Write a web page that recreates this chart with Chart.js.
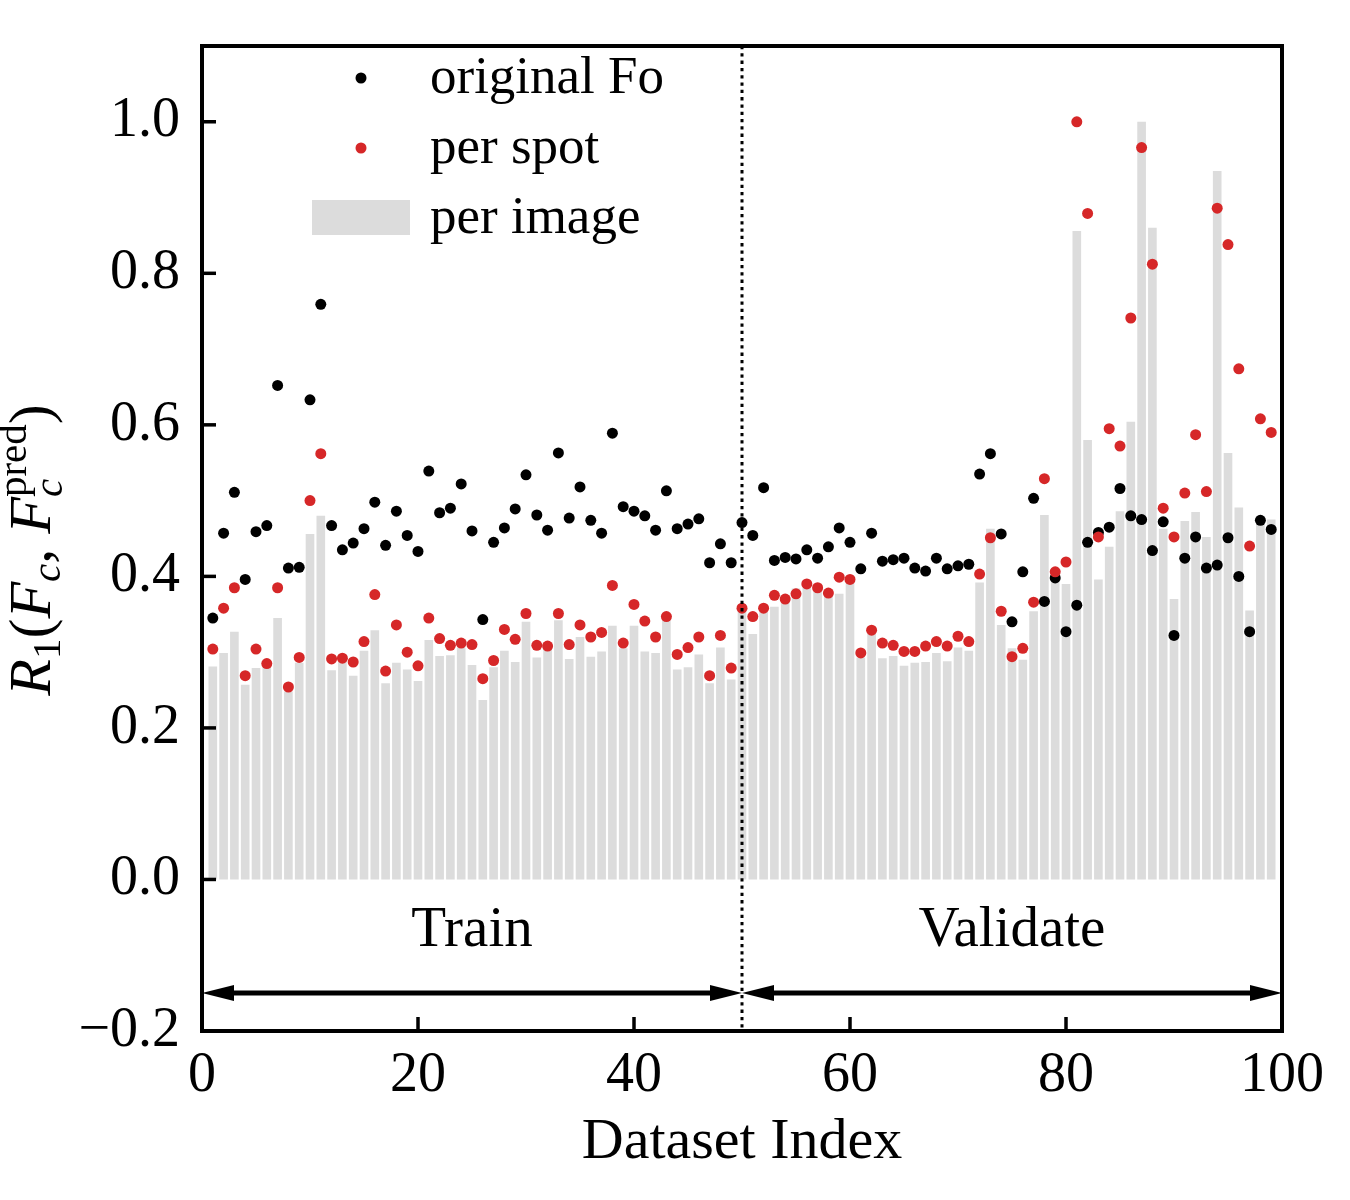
<!DOCTYPE html>
<html>
<head>
<meta charset="utf-8">
<script src="https://cdn.jsdelivr.net/npm/chart.js@4.4.0/dist/chart.umd.min.js"></script>
<style>
  body { margin: 0; background: #fff; }
  canvas { display: block; }
</style>
</head>
<body>
<canvas id="grafica" width="1350" height="1200"></canvas>
<script>
// Indices de los datasets (eje x)
const datasetIndex = [
  1, 2, 3, 4, 5, 6, 7, 8, 9, 10, 11, 12, 13, 14, 15, 16, 17, 18, 19, 20,
  21, 22, 23, 24, 25, 26, 27, 28, 29, 30, 31, 32, 33, 34, 35, 36, 37, 38, 39, 40,
  41, 42, 43, 44, 45, 46, 47, 48, 49, 50, 51, 52, 53, 54, 55, 56, 57, 58, 59, 60,
  61, 62, 63, 64, 65, 66, 67, 68, 69, 70, 71, 72, 73, 74, 75, 76, 77, 78, 79, 80,
  81, 82, 83, 84, 85, 86, 87, 88, 89, 90, 91, 92, 93, 94, 95, 96, 97, 98, 99
];

// original Fo (puntos negros)
const originalFo = [
  0.345, 0.457, 0.511, 0.396, 0.459, 0.467, 0.652, 0.411, 0.412, 0.633,
  0.759, 0.467, 0.435, 0.444, 0.463, 0.498, 0.441, 0.486, 0.454, 0.433,
  0.539, 0.484, 0.490, 0.522, 0.460, 0.343, 0.445, 0.464, 0.489, 0.534,
  0.481, 0.461, 0.563, 0.477, 0.518, 0.474, 0.457, 0.589, 0.492, 0.486,
  0.480, 0.461, 0.513, 0.463, 0.469, 0.476, 0.418, 0.443, 0.418, 0.471,
  0.454, 0.517, 0.421, 0.425, 0.423, 0.435, 0.424, 0.439, 0.464, 0.445,
  0.410, 0.457, 0.420, 0.422, 0.424, 0.411, 0.407, 0.424, 0.410, 0.414,
  0.416, 0.535, 0.562, 0.456, 0.340, 0.406, 0.503, 0.367, 0.398, 0.327,
  0.362, 0.445, 0.458, 0.465, 0.516, 0.480, 0.475, 0.434, 0.472, 0.322,
  0.424, 0.452, 0.411, 0.415, 0.451, 0.400, 0.327, 0.474, 0.462
];

// per spot (puntos rojos)
const perSpot = [
  0.304, 0.358, 0.385, 0.269, 0.304, 0.285, 0.385, 0.254, 0.293, 0.500,
  0.562, 0.291, 0.292, 0.287, 0.314, 0.376, 0.275, 0.336, 0.300, 0.282,
  0.345, 0.318, 0.309, 0.312, 0.310, 0.265, 0.289, 0.330, 0.317, 0.351,
  0.309, 0.308, 0.351, 0.310, 0.336, 0.320, 0.326, 0.388, 0.312, 0.363,
  0.341, 0.320, 0.347, 0.297, 0.306, 0.320, 0.269, 0.322, 0.279, 0.358,
  0.347, 0.358, 0.375, 0.370, 0.377, 0.390, 0.385, 0.378, 0.399, 0.396,
  0.299, 0.329, 0.312, 0.309, 0.301, 0.301, 0.308, 0.314, 0.308, 0.321,
  0.314, 0.403, 0.451, 0.354, 0.294, 0.305, 0.366, 0.529, 0.406, 0.419,
  1.000, 0.879, 0.452, 0.595, 0.572, 0.741, 0.966, 0.812, 0.490, 0.452,
  0.510, 0.587, 0.512, 0.886, 0.838, 0.674, 0.440, 0.608, 0.590
];

// per image (barras grises)
const perImage = [
  0.281, 0.299, 0.327, 0.257, 0.279, 0.281, 0.345, 0.248, 0.286, 0.456,
  0.480, 0.276, 0.290, 0.269, 0.302, 0.329, 0.259, 0.286, 0.277, 0.262,
  0.316, 0.295, 0.296, 0.306, 0.283, 0.237, 0.280, 0.302, 0.287, 0.340,
  0.293, 0.305, 0.342, 0.291, 0.320, 0.294, 0.301, 0.335, 0.305, 0.335,
  0.301, 0.299, 0.342, 0.277, 0.280, 0.297, 0.259, 0.306, 0.264, 0.355,
  0.324, 0.353, 0.360, 0.368, 0.384, 0.385, 0.380, 0.375, 0.377, 0.392,
  0.293, 0.324, 0.292, 0.295, 0.282, 0.286, 0.287, 0.299, 0.288, 0.306,
  0.302, 0.392, 0.463, 0.336, 0.305, 0.290, 0.354, 0.481, 0.398, 0.390,
  0.856, 0.580, 0.396, 0.439, 0.486, 0.604, 1.000, 0.860, 0.463, 0.370,
  0.473, 0.485, 0.452, 0.935, 0.563, 0.491, 0.355, 0.469, 0.475
];

const yTicks = [-0.2, 0.0, 0.2, 0.4, 0.6, 0.8, 1.0];
const xTicks = [0, 20, 40, 60, 80, 100];
const splitAt = 50;
const regions = [
  { label: 'Train', from: 0, to: 50 },
  { label: 'Validate', from: 50, to: 100 }
];
const legendItems = [
  { label: 'original Fo', kind: 'dot', color: '#000000' },
  { label: 'per spot', kind: 'dot', color: '#d62728' },
  { label: 'per image', kind: 'rect', color: '#dcdcdc' }
];

const SERIF = "'Liberation Serif', 'Times New Roman', serif";
Chart.defaults.font.family = SERIF;
Chart.defaults.color = '#000';

const toXY = (ys) => datasetIndex.map((x, k) => ({ x: x, y: ys[k] }));

// Quitar el relleno extra que Chart.js reserva para las etiquetas
const sinRelleno = (axis) => {
  axis.paddingTop = 0;
  axis.paddingBottom = 0;
  axis.paddingLeft = 0;
  axis.paddingRight = 0;
};

// Marco, ticks hacia dentro, linea punteada, flechas, textos y leyenda
const decoraciones = {
  id: 'decoraciones',
  afterDatasetsDraw(chart) {
    const { ctx, chartArea: a, scales } = chart;
    const xs = scales.x, ys = scales.y;
    ctx.save();

    // linea punteada en la separacion
    const xs50 = xs.getPixelForValue(splitAt);
    ctx.strokeStyle = '#000';
    ctx.lineWidth = 3;
    ctx.setLineDash([3.3, 4]);
    ctx.beginPath();
    ctx.moveTo(xs50, a.top);
    ctx.lineTo(xs50, a.bottom);
    ctx.stroke();
    ctx.setLineDash([]);

    // flechas dobles
    const yArrow = ys.getPixelForValue(-0.15);
    const headL = 32, headW = 8;
    ctx.fillStyle = '#000';
    ctx.lineWidth = 5;
    regions.forEach((r) => {
      const x0 = xs.getPixelForValue(r.from);
      const x1 = xs.getPixelForValue(r.to);
      ctx.beginPath();
      ctx.moveTo(x0 + headL - 2, yArrow);
      ctx.lineTo(x1 - headL + 2, yArrow);
      ctx.stroke();
      ctx.beginPath();
      ctx.moveTo(x0, yArrow);
      ctx.lineTo(x0 + headL, yArrow - headW);
      ctx.lineTo(x0 + headL, yArrow + headW);
      ctx.closePath();
      ctx.fill();
      ctx.beginPath();
      ctx.moveTo(x1, yArrow);
      ctx.lineTo(x1 - headL, yArrow - headW);
      ctx.lineTo(x1 - headL, yArrow + headW);
      ctx.closePath();
      ctx.fill();

      // texto de la region
      ctx.font = '57px ' + SERIF;
      ctx.textAlign = 'center';
      ctx.textBaseline = 'alphabetic';
      ctx.fillText(r.label, (x0 + x1) / 2, 946);
    });

    // ticks hacia dentro
    ctx.lineWidth = 3.5;
    yTicks.forEach((v) => {
      const y = ys.getPixelForValue(v);
      ctx.beginPath();
      ctx.moveTo(a.left, y);
      ctx.lineTo(a.left + 14, y);
      ctx.stroke();
    });
    xTicks.forEach((v) => {
      const x = xs.getPixelForValue(v);
      ctx.beginPath();
      ctx.moveTo(x, a.bottom);
      ctx.lineTo(x, a.bottom - 14);
      ctx.stroke();
    });

    // marco
    ctx.lineWidth = 4;
    ctx.strokeRect(a.left, a.top, a.right - a.left, a.bottom - a.top);

    // leyenda
    ctx.font = '53px ' + SERIF;
    ctx.textAlign = 'left';
    ctx.textBaseline = 'alphabetic';
    legendItems.forEach((it, i) => {
      const cy = 78 + i * 70;
      ctx.fillStyle = it.color;
      if (it.kind === 'dot') {
        ctx.beginPath();
        ctx.arc(361, cy, 5.5, 0, Math.PI * 2);
        ctx.fill();
      } else {
        ctx.fillRect(312, cy - 18, 98, 35);
      }
      ctx.fillStyle = '#000';
      ctx.fillText(it.label, 430, cy + 15);
    });
    ctx.restore();
  },
  afterDraw(chart) {
    // titulo del eje y: R_1(F_c, F_c^pred)
    const { ctx } = chart;
    const big = '60px ' + SERIF, bigI = 'italic 60px ' + SERIF;
    const small = '41px ' + SERIF, smallI = 'italic 41px ' + SERIF;
    const parts = [
      { t: 'R', f: bigI, dy: 0 },
      { t: '1', f: small, dy: 10 },
      { t: '(', f: big, dy: 0 },
      { t: 'F', f: bigI, dy: 0 },
      { t: 'c', f: smallI, dy: 10 },
      { t: ', ', f: big, dy: 0 },
      { t: 'F', f: bigI, dy: 0 },
      { t: 'c', f: smallI, dy: 12, stack: { t: 'pred', f: small, dy: -24 } },
      { t: ')', f: big, dy: 0 }
    ];
    ctx.save();
    let total = 0;
    parts.forEach((p) => {
      ctx.font = p.f;
      p.w = ctx.measureText(p.t).width;
      if (p.stack) {
        ctx.font = p.stack.f;
        p.w = Math.max(p.w, ctx.measureText(p.stack.t).width);
      }
      total += p.w;
    });
    ctx.translate(50, 550);
    ctx.rotate(-Math.PI / 2);
    ctx.fillStyle = '#000';
    ctx.textAlign = 'left';
    ctx.textBaseline = 'alphabetic';
    let x = -total / 2;
    parts.forEach((p) => {
      ctx.font = p.f;
      ctx.fillText(p.t, x, p.dy);
      if (p.stack) {
        ctx.font = p.stack.f;
        ctx.fillText(p.stack.t, x, p.stack.dy);
      }
      x += p.w;
    });
    ctx.restore();
  }
};

const canvas = document.getElementById('grafica');
new Chart(canvas, {
  type: 'bar',
  data: {
    datasets: [
      {
        type: 'scatter',
        label: 'per spot',
        data: toXY(perSpot),
        backgroundColor: '#d62728',
        borderWidth: 0,
        pointRadius: 5.5,
        order: 0
      },
      {
        type: 'scatter',
        label: 'original Fo',
        data: toXY(originalFo),
        backgroundColor: '#000000',
        borderWidth: 0,
        pointRadius: 5.5,
        order: 1
      },
      {
        type: 'bar',
        label: 'per image',
        data: toXY(perImage),
        backgroundColor: '#dcdcdc',
        borderWidth: 0,
        barPercentage: 0.8,
        categoryPercentage: 1.0,
        order: 2
      }
    ]
  },
  options: {
    responsive: false,
    devicePixelRatio: 1,
    animation: false,
    layout: { padding: { top: 46, right: 68, bottom: 0, left: 0 } },
    plugins: {
      legend: { display: false },
      tooltip: { enabled: false }
    },
    scales: {
      x: {
        type: 'linear',
        min: 0,
        max: 100,
        offset: false,
        grid: { display: false, drawTicks: false, offset: false },
        border: { display: false },
        ticks: { stepSize: 20, padding: 12, maxRotation: 0, font: { size: 56 }, color: '#000' },
        title: { display: true, text: 'Dataset Index', font: { size: 58 }, color: '#000', padding: { top: 0, bottom: 22 } },
        afterFit: (axis) => { axis.height = 169; sinRelleno(axis); }
      },
      y: {
        min: -0.2,
        max: 1.1,
        grid: { display: false, drawTicks: false },
        border: { display: false },
        afterBuildTicks: (axis) => { axis.ticks = yTicks.map((v) => ({ value: v })); },
        ticks: {
          padding: 22,
          font: { size: 56 },
          color: '#000',
          callback: (v) => (v < 0 ? '\u2212' + Math.abs(v).toFixed(1) : v.toFixed(1))
        },
        afterFit: (axis) => { axis.width = 202; sinRelleno(axis); }
      }
    }
  },
  plugins: [decoraciones]
});
</script>
</body>
</html>
